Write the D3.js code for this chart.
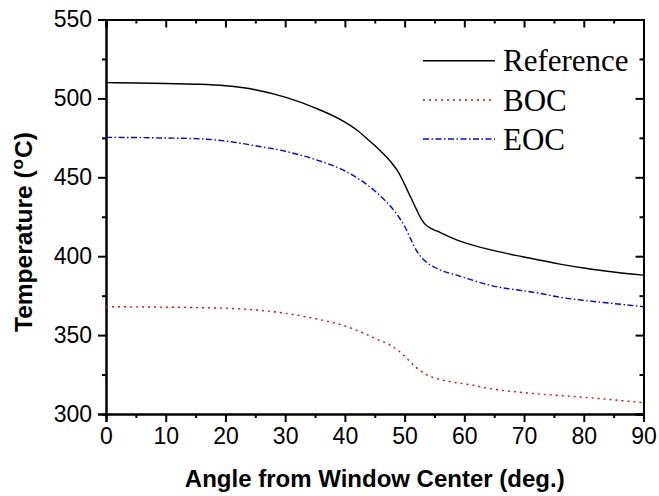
<!DOCTYPE html>
<html>
<head>
<meta charset="utf-8">
<script src="https://cdn.jsdelivr.net/npm/d3@7"></script>
<style>
  html, body { margin: 0; padding: 0; background: #fff; }
  svg { display: block; }
</style>
</head>
<body>
<svg id="chart" width="659" height="496"></svg>
<script>
// ---- data ----
const refAngle = [0, 5, 10, 15, 20, 25, 30, 35, 40, 42, 44, 46, 48, 49, 50, 51, 52, 52.8, 53.5, 54.5, 56, 58, 61.4, 65, 70, 76, 80, 85, 90];
const refTemp  = [510, 509.8, 509.4, 509, 508, 505.5, 500.8, 494, 485, 480, 473.5, 466.5, 458.3, 453, 445.5, 437.5, 429.5, 423.5, 420, 417.5, 415, 411.5, 407, 403.5, 399.5, 395, 392.5, 390, 388];

const eocAngle = [0, 5, 10, 15, 20, 25, 30, 35, 40, 44, 46, 48, 49, 50, 51, 52, 53, 54, 55, 56, 58.7, 64.2, 72.6, 76, 80, 85, 90];
const eocTemp  = [475.3, 475.2, 474.9, 474.5, 473, 470, 466.5, 461.3, 454, 444.5, 438, 430, 425, 419, 411, 403.5, 398.5, 395.2, 393, 391.2, 388, 381.7, 376.5, 374, 372, 370, 368];

const bocAngle = [0, 10, 15.7, 22.4, 29.1, 35.3, 40, 42.5, 45.3, 47.6, 49.5, 51.5, 53.4, 55.4, 57.6, 61.5, 63.7, 71.5, 80, 90];
const bocTemp  = [368, 367.7, 367.4, 366.6, 364.3, 360.2, 355.8, 352.2, 347.5, 343.7, 338.5, 331, 325.4, 322.4, 320.5, 318.2, 316.5, 313, 310.6, 307.2];

const seriesNames = ["Reference", "BOC", "EOC"];
const xMajorTicks = [0, 10, 20, 30, 40, 50, 60, 70, 80, 90];
const xMinorTicks = [5, 15, 25, 35, 45, 55, 65, 75, 85];
const yMajorTicks = [300, 350, 400, 450, 500, 550];
const yMinorTicks = [325, 375, 425, 475, 525];
const xTitle = "Angle from Window Center (deg.)";

// ---- layout ----
const svg = d3.select("#chart");
const L = 106, R = 643.5, T = 19.5, B = 414;
const x = d3.scaleLinear().domain([0, 90]).range([L, R]);
const y = d3.scaleLinear().domain([300, 550]).range([B, T]);

const tickFont = "Arial, 'Liberation Sans', sans-serif";

// Bottom axis (major + minor, outward)
const gB = svg.append("g").attr("transform", `translate(0,${B})`);
gB.call(d3.axisBottom(x).tickValues(xMajorTicks).tickSize(8).tickPadding(6).tickFormat(d3.format("d")));
const gBm = svg.append("g").attr("transform", `translate(0,${B})`);
gBm.call(d3.axisBottom(x).tickValues(xMinorTicks).tickSize(4).tickFormat(""));

// Left axis
const gL = svg.append("g").attr("transform", `translate(${L},0)`);
gL.call(d3.axisLeft(y).tickValues(yMajorTicks).tickSize(8).tickPadding(6).tickFormat(d3.format("d")));
const gLm = svg.append("g").attr("transform", `translate(${L},0)`);
gLm.call(d3.axisLeft(y).tickValues(yMinorTicks).tickSize(4).tickFormat(""));

// Top axis (inward ticks)
const gT = svg.append("g").attr("transform", `translate(0,${T})`);
gT.call(d3.axisTop(x).tickValues(xMajorTicks).tickSize(-8).tickFormat(""));
const gTm = svg.append("g").attr("transform", `translate(0,${T})`);
gTm.call(d3.axisTop(x).tickValues(xMinorTicks).tickSize(-4).tickFormat(""));

// Right axis (inward ticks)
const gR = svg.append("g").attr("transform", `translate(${R},0)`);
gR.call(d3.axisRight(y).tickValues(yMajorTicks).tickSize(-8).tickFormat(""));
const gRm = svg.append("g").attr("transform", `translate(${R},0)`);
gRm.call(d3.axisRight(y).tickValues(yMinorTicks).tickSize(-4).tickFormat(""));

svg.selectAll(".domain").attr("stroke", "#000").attr("stroke-width", 2);
svg.selectAll(".tick line").attr("stroke", "#000").attr("stroke-width", 2);
svg.selectAll(".tick text")
  .attr("font-family", tickFont)
  .attr("font-size", 23)
  .attr("fill", "#000");

// ---- series ----
const line = d3.line().x(d => x(d[0])).y(d => y(d[1])).curve(d3.curveMonotoneX);
const zip = (a, b) => a.map((v, i) => [v, b[i]]);

const styles = [
  { name: seriesNames[0], data: zip(refAngle, refTemp), color: "#000000", dash: null, w: 1.4 },
  { name: seriesNames[1], data: zip(bocAngle, bocTemp), color: "#ff0000", dash: "2,4", w: 1.4 },
  { name: seriesNames[2], data: zip(eocAngle, eocTemp), color: "#0000ff", dash: "6,2.5,1.5,2.5", w: 1.4 }
];

const plot = svg.append("g");
styles.forEach(s => {
  plot.append("path")
    .datum(s.data)
    .attr("d", line)
    .attr("fill", "none")
    .attr("stroke", s.color)
    .attr("stroke-width", s.w)
    .attr("stroke-dasharray", s.dash);
});

// ---- legend ----
const legend = svg.append("g");
const legY = [60.7, 100, 139];
styles.forEach((s, i) => {
  legend.append("line")
    .attr("x1", 423).attr("x2", 495)
    .attr("y1", legY[i]).attr("y2", legY[i])
    .attr("stroke", s.color)
    .attr("stroke-width", 1.4)
    .attr("stroke-dasharray", s.dash);
  legend.append("text")
    .attr("x", 503).attr("y", legY[i] + 10.5)
    .attr("font-family", "'Times New Roman', 'Liberation Serif', serif")
    .attr("font-size", 31)
    .attr("fill", "#000")
    .text(s.name);
});

// ---- axis titles ----
svg.append("text")
  .attr("x", (L + R) / 2).attr("y", 487)
  .attr("text-anchor", "middle")
  .attr("font-family", tickFont)
  .attr("font-weight", "bold")
  .attr("font-size", 24)
  .attr("fill", "#000")
  .text(xTitle);

const yt = svg.append("text")
  .attr("transform", `translate(32,332) rotate(-90)`)
  .attr("text-anchor", "start")
  .attr("font-family", tickFont)
  .attr("font-weight", "bold")
  .attr("font-size", 24.5)
  .attr("fill", "#000");
yt.append("tspan").text("Temperature (");
yt.append("tspan").attr("font-size", 17).attr("dx", 1).attr("dy", -9).text("o");
yt.append("tspan").attr("dx", 1).attr("dy", 9).text("C)");
</script>
</body>
</html>
